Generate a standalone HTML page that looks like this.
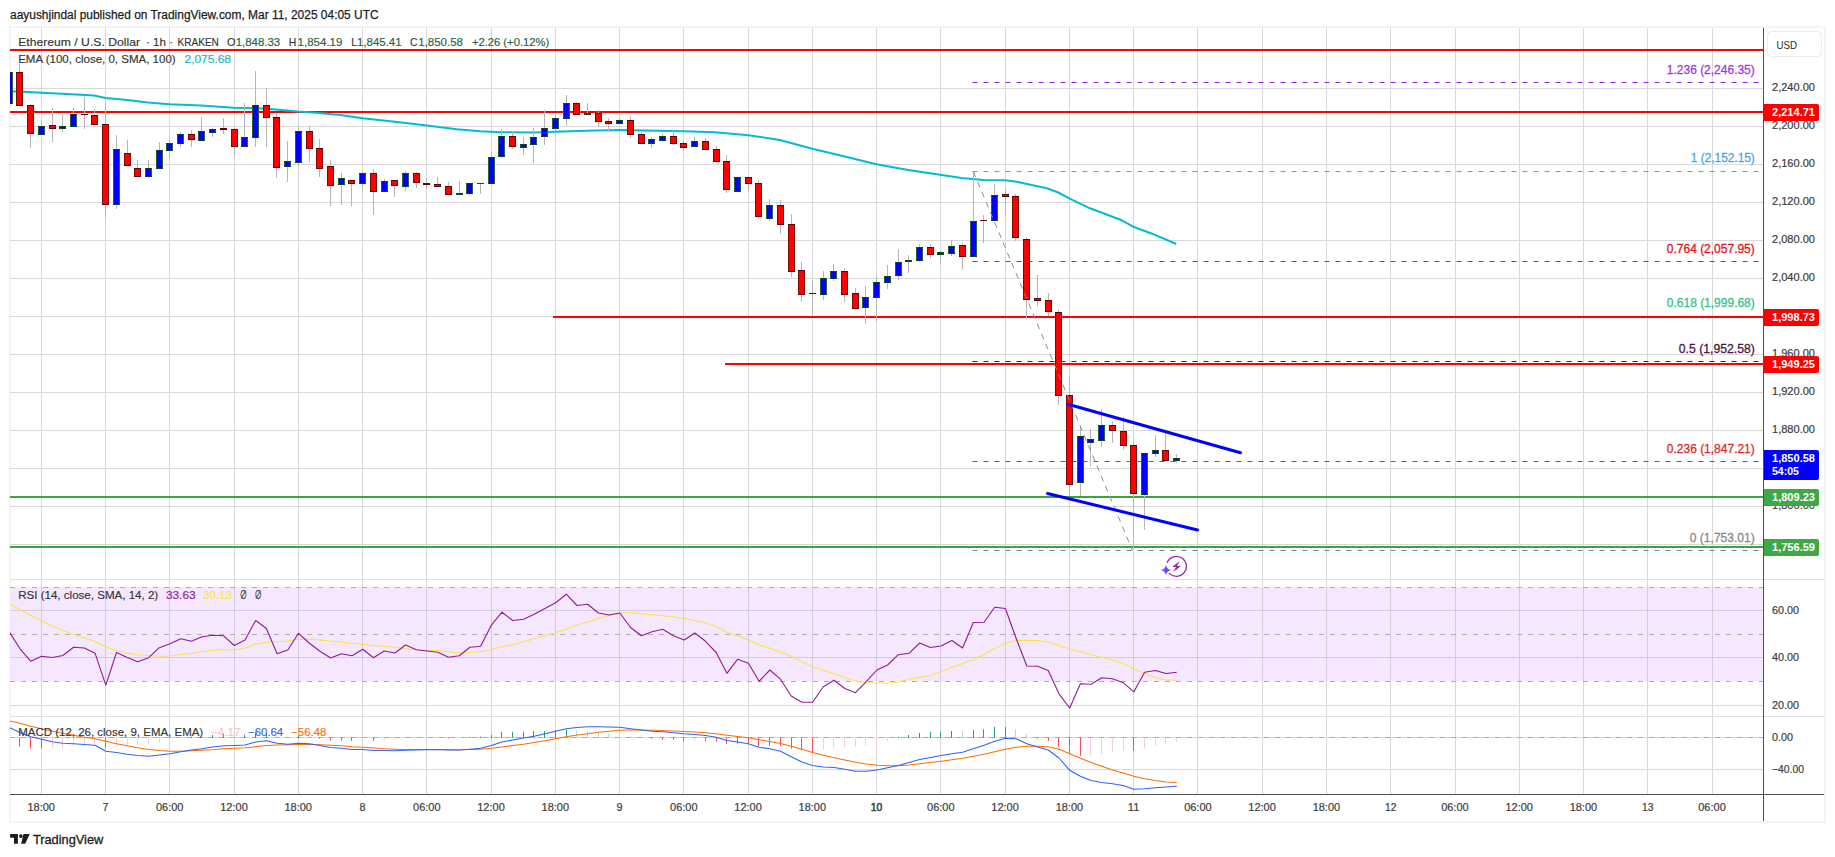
<!DOCTYPE html>
<html lang="en"><head><meta charset="utf-8"><title>ETHUSD chart</title>
<style>html,body{margin:0;padding:0;background:#fff;}body{width:1835px;height:857px;position:relative;overflow:hidden;}</style></head>
<body>
<svg width="1835" height="857" viewBox="0 0 1835 857" font-family='"Liberation Sans", "DejaVu Sans", sans-serif' style="position:absolute;left:0;top:0">
<rect x="0" y="0" width="1835" height="857" fill="#ffffff"/>
<rect x="10" y="27" width="1815" height="795" fill="#ffffff" stroke="#f4f4f4" stroke-width="2"/>
<defs><clipPath id="cm"><rect x="10" y="28" width="1753" height="551"/></clipPath><clipPath id="cr"><rect x="10" y="580" width="1753" height="136"/></clipPath><clipPath id="cd"><rect x="10" y="717" width="1753" height="77"/></clipPath></defs>
<rect x="10" y="587" width="1753" height="94.0" fill="#f5e8fe"/>
<path d="M41.5 28V794 M105.5 28V794 M169.5 28V794 M234.5 28V794 M298.5 28V794 M362.5 28V794 M426.5 28V794 M491.5 28V794 M555.5 28V794 M619.5 28V794 M683.5 28V794 M748.5 28V794 M812.5 28V794 M876.5 28V794 M940.5 28V794 M1005.5 28V794 M1069.5 28V794 M1133.5 28V794 M1197.5 28V794 M1262.5 28V794 M1326.5 28V794 M1390.5 28V794 M1455.5 28V794 M1519.5 28V794 M1583.5 28V794 M1647.5 28V794 M1712.5 28V794" stroke="#d9d9d9" stroke-width="1" fill="none"/>
<path d="M41.5 587.5V681.5 M105.5 587.5V681.5 M169.5 587.5V681.5 M234.5 587.5V681.5 M298.5 587.5V681.5 M362.5 587.5V681.5 M426.5 587.5V681.5 M491.5 587.5V681.5 M555.5 587.5V681.5 M619.5 587.5V681.5 M683.5 587.5V681.5 M748.5 587.5V681.5 M812.5 587.5V681.5 M876.5 587.5V681.5 M940.5 587.5V681.5 M1005.5 587.5V681.5 M1069.5 587.5V681.5 M1133.5 587.5V681.5 M1197.5 587.5V681.5 M1262.5 587.5V681.5 M1326.5 587.5V681.5 M1390.5 587.5V681.5 M1455.5 587.5V681.5 M1519.5 587.5V681.5 M1583.5 587.5V681.5 M1647.5 587.5V681.5 M1712.5 587.5V681.5" stroke="#d5c8e1" stroke-width="1" fill="none"/>
<path d="M10 88.5H1763 M10 126.5H1763 M10 164.5H1763 M10 202.5H1763 M10 240.5H1763 M10 278.5H1763 M10 316.5H1763 M10 354.5H1763 M10 392.5H1763 M10 430.5H1763 M10 468.5H1763 M10 506.5H1763 M10 544.5H1763" stroke="#d9d9d9" stroke-width="1" fill="none"/>
<path d="M10 705.5H1763" stroke="#d9d9d9" stroke-width="1" fill="none"/>
<path d="M10 610.5H1763 M10 657.5H1763" stroke="#d5c8e1" stroke-width="1" fill="none"/>
<path d="M10 737.5H1763 M10 769.5H1763" stroke="#d9d9d9" stroke-width="1" fill="none"/>
<path d="M10 579.5H1824 M10 716.5H1824" stroke="#dfe1ea" stroke-width="1" fill="none"/>
<path d="M10 587.5H1763 M10 634.5H1763 M10 681.5H1763" stroke="#adadad" stroke-width="1" stroke-dasharray="5 6" fill="none"/>
<path d="M10 737.5H1763" stroke="#adadad" stroke-width="1" stroke-dasharray="5 6" fill="none"/>
<text x="1772" y="91.0" font-size="11.3" fill="#3c3c3c" stroke="#3c3c3c" stroke-width="0.2" font-weight="normal" textLength="43" lengthAdjust="spacingAndGlyphs">2,240.00</text>
<text x="1772" y="129.0" font-size="11.3" fill="#3c3c3c" stroke="#3c3c3c" stroke-width="0.2" font-weight="normal" textLength="43" lengthAdjust="spacingAndGlyphs">2,200.00</text>
<text x="1772" y="167.0" font-size="11.3" fill="#3c3c3c" stroke="#3c3c3c" stroke-width="0.2" font-weight="normal" textLength="43" lengthAdjust="spacingAndGlyphs">2,160.00</text>
<text x="1772" y="205.0" font-size="11.3" fill="#3c3c3c" stroke="#3c3c3c" stroke-width="0.2" font-weight="normal" textLength="43" lengthAdjust="spacingAndGlyphs">2,120.00</text>
<text x="1772" y="243.0" font-size="11.3" fill="#3c3c3c" stroke="#3c3c3c" stroke-width="0.2" font-weight="normal" textLength="43" lengthAdjust="spacingAndGlyphs">2,080.00</text>
<text x="1772" y="281.0" font-size="11.3" fill="#3c3c3c" stroke="#3c3c3c" stroke-width="0.2" font-weight="normal" textLength="43" lengthAdjust="spacingAndGlyphs">2,040.00</text>
<text x="1772" y="357.0" font-size="11.3" fill="#3c3c3c" stroke="#3c3c3c" stroke-width="0.2" font-weight="normal" textLength="43" lengthAdjust="spacingAndGlyphs">1,960.00</text>
<text x="1772" y="395.0" font-size="11.3" fill="#3c3c3c" stroke="#3c3c3c" stroke-width="0.2" font-weight="normal" textLength="43" lengthAdjust="spacingAndGlyphs">1,920.00</text>
<text x="1772" y="433.0" font-size="11.3" fill="#3c3c3c" stroke="#3c3c3c" stroke-width="0.2" font-weight="normal" textLength="43" lengthAdjust="spacingAndGlyphs">1,880.00</text>
<text x="1772" y="509.0" font-size="11.3" fill="#3c3c3c" stroke="#3c3c3c" stroke-width="0.2" font-weight="normal" textLength="43" lengthAdjust="spacingAndGlyphs">1,800.00</text>
<text x="1772" y="613.9" font-size="11.3" fill="#3c3c3c" stroke="#3c3c3c" stroke-width="0.2" font-weight="normal" textLength="27" lengthAdjust="spacingAndGlyphs">60.00</text>
<text x="1772" y="660.9" font-size="11.3" fill="#3c3c3c" stroke="#3c3c3c" stroke-width="0.2" font-weight="normal" textLength="27" lengthAdjust="spacingAndGlyphs">40.00</text>
<text x="1772" y="708.9" font-size="11.3" fill="#3c3c3c" stroke="#3c3c3c" stroke-width="0.2" font-weight="normal" textLength="27" lengthAdjust="spacingAndGlyphs">20.00</text>
<text x="1772" y="740.9" font-size="11.3" fill="#3c3c3c" stroke="#3c3c3c" stroke-width="0.2" font-weight="normal" textLength="21" lengthAdjust="spacingAndGlyphs">0.00</text>
<text x="1772" y="772.9" font-size="11.3" fill="#3c3c3c" stroke="#3c3c3c" stroke-width="0.2" font-weight="normal" textLength="32" lengthAdjust="spacingAndGlyphs">−40.00</text>
<g clip-path="url(#cm)">
<path d="M972.5 82.5H1760" stroke="#9826d0" stroke-width="1" stroke-dasharray="5 6" fill="none"/>
<path d="M972.5 171.5H1760" stroke="#4aa7e0" stroke-width="1" stroke-dasharray="5 6" fill="none"/>
<path d="M972.5 261.5H1760" stroke="#f0141c" stroke-width="1" stroke-dasharray="5 6" fill="none"/>
<path d="M972.5 361.5H1760" stroke="#4a1540" stroke-width="1" stroke-dasharray="5 6" fill="none"/>
<path d="M972.5 461.5H1760" stroke="#dd2a2f" stroke-width="1" stroke-dasharray="5 6" fill="none"/>
<path d="M972.5 550.5H1760" stroke="#7f7f7f" stroke-width="1" stroke-dasharray="5 6" fill="none"/>
<path d="M972.5 316.5H1760" stroke="#35c28f" stroke-width="1" stroke-dasharray="5 6" fill="none"/>
<text x="1754.8" y="73.9" font-size="12" fill="#a23be0" stroke="#a23be0" stroke-width="0.3" text-anchor="end" textLength="88" lengthAdjust="spacingAndGlyphs">1.236 (2,246.35)</text>
<text x="1754.8" y="162.4" font-size="12" fill="#4aa7e0" stroke="#4aa7e0" stroke-width="0.3" text-anchor="end" textLength="64" lengthAdjust="spacingAndGlyphs">1 (2,152.15)</text>
<text x="1754.8" y="252.9" font-size="12" fill="#e0141c" stroke="#e0141c" stroke-width="0.3" text-anchor="end" textLength="88" lengthAdjust="spacingAndGlyphs">0.764 (2,057.95)</text>
<text x="1754.8" y="307.4" font-size="12" fill="#35c28f" stroke="#35c28f" stroke-width="0.3" text-anchor="end" textLength="88" lengthAdjust="spacingAndGlyphs">0.618 (1,999.68)</text>
<text x="1754.8" y="352.9" font-size="12" fill="#4a1540" stroke="#4a1540" stroke-width="0.3" text-anchor="end" textLength="76" lengthAdjust="spacingAndGlyphs">0.5 (1,952.58)</text>
<text x="1754.8" y="452.9" font-size="12" fill="#dd2a2f" stroke="#dd2a2f" stroke-width="0.3" text-anchor="end" textLength="88" lengthAdjust="spacingAndGlyphs">0.236 (1,847.21)</text>
<text x="1754.8" y="541.9" font-size="12" fill="#8a8a8a" stroke="#8a8a8a" stroke-width="0.3" text-anchor="end" textLength="65" lengthAdjust="spacingAndGlyphs">0 (1,753.01)</text>
<path d="M10 50H1763 M10 112H1763 M553 317H1763 M725 364H1763" stroke="#ff0000" stroke-width="2" fill="none"/>
<path d="M10 497H1763 M10 547H1763" stroke="#3aa63d" stroke-width="2" fill="none"/>
<polyline points="10,91.2 19.5,91.6 41.5,92.7 62,93.8 94,95.5 105.5,98 127,100 148,102.5 169.5,104.3 201,105.5 234,107.8 258,108.3 276,109.5 298,111.5 313,112.5 340,115 362.5,118.3 395,121.7 426.7,125.5 456.7,129.2 480,131.2 501.3,132.2 533.3,132.5 555.2,131.7 586.7,130.8 619.2,130 645,130.5 683.5,131.2 715,132.2 748.5,135.3 780,140 812.3,148.8 841.7,155.8 876.3,164.2 908.3,170 930,173.3 961.7,178 983.3,180 1005,180.3 1016.7,181.7 1046.7,188.3 1058.3,192.5 1069.7,198.7 1090,208.3 1121.7,220.3 1133.3,226.7 1153.3,234.2 1176.3,244" stroke="#00bcd4" stroke-width="2" fill="none" stroke-linejoin="round"/>
<path d="M9.5 72V104 M19.5 64V106 M30.5 104V148 M41.5 120V135 M52.5 108V142 M62.5 114V132 M73.5 108V127 M84.5 97V129 M94.5 109V125 M105.5 102V217 M116.5 135V209 M127.5 140V166 M137.5 160V177 M148.5 160V178 M159.5 142V169 M169.5 140V158 M180.5 132V147 M191.5 130V147 M201.5 117V141 M212.5 128V137 M223.5 118V134 M234.5 128V157 M244.5 103V147 M255.5 71V147 M266.5 88V147 M276.5 113V178 M287.5 141V182 M298.5 126V166 M309.5 126V162 M319.5 139V177 M330.5 160V206 M341.5 173V205 M351.5 180V206 M362.5 172V191 M373.5 169V215 M384.5 179V192 M394.5 180V197 M405.5 171V191 M416.5 172V188 M426.5 178V189 M437.5 177V187 M448.5 182V195 M459.5 181V195 M469.5 183V195 M480.5 183V194 M491.5 152V184 M501.5 129V158 M512.5 131V149 M523.5 137V155 M533.5 128V163 M544.5 110V145 M555.5 114V131 M566.5 95V126 M576.5 102V115 M587.5 103V115 M598.5 110V127 M608.5 118V132 M619.5 118V124 M630.5 116V138 M641.5 132V144 M651.5 137V148 M662.5 134V142 M673.5 130V145 M683.5 141V151 M694.5 137V147 M705.5 138V150 M716.5 146V163 M726.5 155V193 M737.5 177V192 M748.5 177V191 M758.5 180V218 M769.5 199V221 M780.5 200V234 M791.5 214V277 M801.5 262V302 M812.5 280V316 M823.5 271V300 M833.5 264V281 M844.5 268V302 M855.5 288V310 M865.5 286V324 M876.5 276V321 M887.5 265V289 M898.5 249V280 M908.5 255V273 M919.5 244V262 M930.5 244V258 M940.5 251V264 M951.5 240V256 M962.5 243V270 M973.5 171V257 M983.5 215V243 M994.5 184V221 M1005.5 188V215 M1015.5 194V241 M1026.5 237V319 M1037.5 275V306 M1048.5 293V316 M1058.5 310V405 M1069.5 376V496 M1080.5 427V496 M1090.5 429V466 M1101.5 409V447 M1112.5 421V443 M1123.5 417V450 M1133.5 441V549 M1144.5 453V530 M1155.5 435V457 M1165.5 433V461 M1176.5 454V463" stroke="#b6b6b6" stroke-width="1" fill="none"/>
<rect x="6.0" y="72" width="7" height="32" fill="#0d4423"/>
<rect x="6.0" y="73" width="7" height="30" fill="#2a6236"/>
<rect x="7.0" y="73" width="5" height="30" fill="#0000ff"/>
<rect x="16.0" y="72" width="7" height="34" fill="#5a0404"/>
<rect x="16.0" y="73" width="7" height="32" fill="#7a0c08"/>
<rect x="17.0" y="73" width="5" height="32" fill="#ff0000"/>
<rect x="27.0" y="105" width="7" height="29" fill="#5a0404"/>
<rect x="27.0" y="106" width="7" height="27" fill="#7a0c08"/>
<rect x="28.0" y="106" width="5" height="27" fill="#ff0000"/>
<rect x="38.0" y="126" width="7" height="9" fill="#0d4423"/>
<rect x="38.0" y="127" width="7" height="7" fill="#2a6236"/>
<rect x="39.0" y="127" width="5" height="7" fill="#0000ff"/>
<rect x="49.0" y="125" width="7" height="4" fill="#5a0404"/>
<rect x="49.0" y="126" width="7" height="2" fill="#7a0c08"/>
<rect x="50.0" y="126" width="5" height="2" fill="#ff0000"/>
<rect x="59.0" y="126" width="7" height="3" fill="#0d4423"/>
<rect x="59.0" y="127" width="7" height="1" fill="#2a6236"/>
<rect x="60.0" y="127" width="5" height="1" fill="#0000ff"/>
<rect x="70.0" y="114" width="7" height="13" fill="#0d4423"/>
<rect x="70.0" y="115" width="7" height="11" fill="#2a6236"/>
<rect x="71.0" y="115" width="5" height="11" fill="#0000ff"/>
<rect x="81.0" y="114" width="7" height="1" fill="#5a0404"/>
<rect x="91.0" y="115" width="7" height="10" fill="#5a0404"/>
<rect x="91.0" y="116" width="7" height="8" fill="#7a0c08"/>
<rect x="92.0" y="116" width="5" height="8" fill="#ff0000"/>
<rect x="102.0" y="124" width="7" height="81" fill="#5a0404"/>
<rect x="102.0" y="125" width="7" height="79" fill="#7a0c08"/>
<rect x="103.0" y="125" width="5" height="79" fill="#ff0000"/>
<rect x="113.0" y="149" width="7" height="56" fill="#0d4423"/>
<rect x="113.0" y="150" width="7" height="54" fill="#2a6236"/>
<rect x="114.0" y="150" width="5" height="54" fill="#0000ff"/>
<rect x="124.0" y="153" width="7" height="13" fill="#5a0404"/>
<rect x="124.0" y="154" width="7" height="11" fill="#7a0c08"/>
<rect x="125.0" y="154" width="5" height="11" fill="#ff0000"/>
<rect x="134.0" y="168" width="7" height="9" fill="#5a0404"/>
<rect x="134.0" y="169" width="7" height="7" fill="#7a0c08"/>
<rect x="135.0" y="169" width="5" height="7" fill="#ff0000"/>
<rect x="145.0" y="168" width="7" height="9" fill="#0d4423"/>
<rect x="145.0" y="169" width="7" height="7" fill="#2a6236"/>
<rect x="146.0" y="169" width="5" height="7" fill="#0000ff"/>
<rect x="156.0" y="150" width="7" height="19" fill="#0d4423"/>
<rect x="156.0" y="151" width="7" height="17" fill="#2a6236"/>
<rect x="157.0" y="151" width="5" height="17" fill="#0000ff"/>
<rect x="166.0" y="143" width="7" height="8" fill="#0d4423"/>
<rect x="166.0" y="144" width="7" height="6" fill="#2a6236"/>
<rect x="167.0" y="144" width="5" height="6" fill="#0000ff"/>
<rect x="177.0" y="134" width="7" height="10" fill="#0d4423"/>
<rect x="177.0" y="135" width="7" height="8" fill="#2a6236"/>
<rect x="178.0" y="135" width="5" height="8" fill="#0000ff"/>
<rect x="188.0" y="134" width="7" height="6" fill="#5a0404"/>
<rect x="188.0" y="135" width="7" height="4" fill="#7a0c08"/>
<rect x="189.0" y="135" width="5" height="4" fill="#ff0000"/>
<rect x="198.0" y="131" width="7" height="10" fill="#0d4423"/>
<rect x="198.0" y="132" width="7" height="8" fill="#2a6236"/>
<rect x="199.0" y="132" width="5" height="8" fill="#0000ff"/>
<rect x="209.0" y="129" width="7" height="4" fill="#0d4423"/>
<rect x="209.0" y="130" width="7" height="2" fill="#2a6236"/>
<rect x="210.0" y="130" width="5" height="2" fill="#0000ff"/>
<rect x="220.0" y="128" width="7" height="2" fill="#5a0404"/>
<rect x="231.0" y="129" width="7" height="18" fill="#5a0404"/>
<rect x="231.0" y="130" width="7" height="16" fill="#7a0c08"/>
<rect x="232.0" y="130" width="5" height="16" fill="#ff0000"/>
<rect x="241.0" y="137" width="7" height="10" fill="#0d4423"/>
<rect x="241.0" y="138" width="7" height="8" fill="#2a6236"/>
<rect x="242.0" y="138" width="5" height="8" fill="#0000ff"/>
<rect x="252.0" y="105" width="7" height="33" fill="#0d4423"/>
<rect x="252.0" y="106" width="7" height="31" fill="#2a6236"/>
<rect x="253.0" y="106" width="5" height="31" fill="#0000ff"/>
<rect x="263.0" y="105" width="7" height="13" fill="#5a0404"/>
<rect x="263.0" y="106" width="7" height="11" fill="#7a0c08"/>
<rect x="264.0" y="106" width="5" height="11" fill="#ff0000"/>
<rect x="273.0" y="117" width="7" height="51" fill="#5a0404"/>
<rect x="273.0" y="118" width="7" height="49" fill="#7a0c08"/>
<rect x="274.0" y="118" width="5" height="49" fill="#ff0000"/>
<rect x="284.0" y="161" width="7" height="6" fill="#0d4423"/>
<rect x="284.0" y="162" width="7" height="4" fill="#2a6236"/>
<rect x="285.0" y="162" width="5" height="4" fill="#0000ff"/>
<rect x="295.0" y="131" width="7" height="32" fill="#0d4423"/>
<rect x="295.0" y="132" width="7" height="30" fill="#2a6236"/>
<rect x="296.0" y="132" width="5" height="30" fill="#0000ff"/>
<rect x="306.0" y="131" width="7" height="18" fill="#5a0404"/>
<rect x="306.0" y="132" width="7" height="16" fill="#7a0c08"/>
<rect x="307.0" y="132" width="5" height="16" fill="#ff0000"/>
<rect x="316.0" y="148" width="7" height="21" fill="#5a0404"/>
<rect x="316.0" y="149" width="7" height="19" fill="#7a0c08"/>
<rect x="317.0" y="149" width="5" height="19" fill="#ff0000"/>
<rect x="327.0" y="166" width="7" height="20" fill="#5a0404"/>
<rect x="327.0" y="167" width="7" height="18" fill="#7a0c08"/>
<rect x="328.0" y="167" width="5" height="18" fill="#ff0000"/>
<rect x="338.0" y="178" width="7" height="7" fill="#0d4423"/>
<rect x="338.0" y="179" width="7" height="5" fill="#2a6236"/>
<rect x="339.0" y="179" width="5" height="5" fill="#0000ff"/>
<rect x="348.0" y="180" width="7" height="4" fill="#5a0404"/>
<rect x="348.0" y="181" width="7" height="2" fill="#7a0c08"/>
<rect x="349.0" y="181" width="5" height="2" fill="#ff0000"/>
<rect x="359.0" y="173" width="7" height="11" fill="#0d4423"/>
<rect x="359.0" y="174" width="7" height="9" fill="#2a6236"/>
<rect x="360.0" y="174" width="5" height="9" fill="#0000ff"/>
<rect x="370.0" y="173" width="7" height="19" fill="#5a0404"/>
<rect x="370.0" y="174" width="7" height="17" fill="#7a0c08"/>
<rect x="371.0" y="174" width="5" height="17" fill="#ff0000"/>
<rect x="381.0" y="181" width="7" height="11" fill="#0d4423"/>
<rect x="381.0" y="182" width="7" height="9" fill="#2a6236"/>
<rect x="382.0" y="182" width="5" height="9" fill="#0000ff"/>
<rect x="391.0" y="180" width="7" height="6" fill="#5a0404"/>
<rect x="391.0" y="181" width="7" height="4" fill="#7a0c08"/>
<rect x="392.0" y="181" width="5" height="4" fill="#ff0000"/>
<rect x="402.0" y="173" width="7" height="14" fill="#0d4423"/>
<rect x="402.0" y="174" width="7" height="12" fill="#2a6236"/>
<rect x="403.0" y="174" width="5" height="12" fill="#0000ff"/>
<rect x="413.0" y="173" width="7" height="10" fill="#5a0404"/>
<rect x="413.0" y="174" width="7" height="8" fill="#7a0c08"/>
<rect x="414.0" y="174" width="5" height="8" fill="#ff0000"/>
<rect x="423.0" y="183" width="7" height="2" fill="#5a0404"/>
<rect x="434.0" y="184" width="7" height="3" fill="#5a0404"/>
<rect x="434.0" y="185" width="7" height="1" fill="#7a0c08"/>
<rect x="435.0" y="185" width="5" height="1" fill="#ff0000"/>
<rect x="445.0" y="186" width="7" height="9" fill="#5a0404"/>
<rect x="445.0" y="187" width="7" height="7" fill="#7a0c08"/>
<rect x="446.0" y="187" width="5" height="7" fill="#ff0000"/>
<rect x="456.0" y="193" width="7" height="2" fill="#0f4a26"/>
<rect x="466.0" y="183" width="7" height="11" fill="#0d4423"/>
<rect x="466.0" y="184" width="7" height="9" fill="#2a6236"/>
<rect x="467.0" y="184" width="5" height="9" fill="#0000ff"/>
<rect x="477.0" y="183" width="7" height="1" fill="#0f4a26"/>
<rect x="488.0" y="157" width="7" height="27" fill="#0d4423"/>
<rect x="488.0" y="158" width="7" height="25" fill="#2a6236"/>
<rect x="489.0" y="158" width="5" height="25" fill="#0000ff"/>
<rect x="498.0" y="136" width="7" height="21" fill="#0d4423"/>
<rect x="498.0" y="137" width="7" height="19" fill="#2a6236"/>
<rect x="499.0" y="137" width="5" height="19" fill="#0000ff"/>
<rect x="509.0" y="136" width="7" height="11" fill="#5a0404"/>
<rect x="509.0" y="137" width="7" height="9" fill="#7a0c08"/>
<rect x="510.0" y="137" width="5" height="9" fill="#ff0000"/>
<rect x="520.0" y="144" width="7" height="4" fill="#0d4423"/>
<rect x="520.0" y="145" width="7" height="2" fill="#2a6236"/>
<rect x="521.0" y="145" width="5" height="2" fill="#0000ff"/>
<rect x="530.0" y="137" width="7" height="8" fill="#0d4423"/>
<rect x="530.0" y="138" width="7" height="6" fill="#2a6236"/>
<rect x="531.0" y="138" width="5" height="6" fill="#0000ff"/>
<rect x="541.0" y="128" width="7" height="9" fill="#0d4423"/>
<rect x="541.0" y="129" width="7" height="7" fill="#2a6236"/>
<rect x="542.0" y="129" width="5" height="7" fill="#0000ff"/>
<rect x="552.0" y="118" width="7" height="11" fill="#0d4423"/>
<rect x="552.0" y="119" width="7" height="9" fill="#2a6236"/>
<rect x="553.0" y="119" width="5" height="9" fill="#0000ff"/>
<rect x="563.0" y="103" width="7" height="16" fill="#0d4423"/>
<rect x="563.0" y="104" width="7" height="14" fill="#2a6236"/>
<rect x="564.0" y="104" width="5" height="14" fill="#0000ff"/>
<rect x="573.0" y="103" width="7" height="12" fill="#5a0404"/>
<rect x="573.0" y="104" width="7" height="10" fill="#7a0c08"/>
<rect x="574.0" y="104" width="5" height="10" fill="#ff0000"/>
<rect x="584.0" y="113" width="7" height="2" fill="#0f4a26"/>
<rect x="595.0" y="113" width="7" height="9" fill="#5a0404"/>
<rect x="595.0" y="114" width="7" height="7" fill="#7a0c08"/>
<rect x="596.0" y="114" width="5" height="7" fill="#ff0000"/>
<rect x="605.0" y="121" width="7" height="3" fill="#5a0404"/>
<rect x="605.0" y="122" width="7" height="1" fill="#7a0c08"/>
<rect x="606.0" y="122" width="5" height="1" fill="#ff0000"/>
<rect x="616.0" y="120" width="7" height="4" fill="#0d4423"/>
<rect x="616.0" y="121" width="7" height="2" fill="#2a6236"/>
<rect x="617.0" y="121" width="5" height="2" fill="#0000ff"/>
<rect x="627.0" y="120" width="7" height="15" fill="#5a0404"/>
<rect x="627.0" y="121" width="7" height="13" fill="#7a0c08"/>
<rect x="628.0" y="121" width="5" height="13" fill="#ff0000"/>
<rect x="638.0" y="134" width="7" height="10" fill="#5a0404"/>
<rect x="638.0" y="135" width="7" height="8" fill="#7a0c08"/>
<rect x="639.0" y="135" width="5" height="8" fill="#ff0000"/>
<rect x="648.0" y="139" width="7" height="5" fill="#0d4423"/>
<rect x="648.0" y="140" width="7" height="3" fill="#2a6236"/>
<rect x="649.0" y="140" width="5" height="3" fill="#0000ff"/>
<rect x="659.0" y="136" width="7" height="5" fill="#0d4423"/>
<rect x="659.0" y="137" width="7" height="3" fill="#2a6236"/>
<rect x="660.0" y="137" width="5" height="3" fill="#0000ff"/>
<rect x="670.0" y="136" width="7" height="8" fill="#5a0404"/>
<rect x="670.0" y="137" width="7" height="6" fill="#7a0c08"/>
<rect x="671.0" y="137" width="5" height="6" fill="#ff0000"/>
<rect x="680.0" y="143" width="7" height="5" fill="#5a0404"/>
<rect x="680.0" y="144" width="7" height="3" fill="#7a0c08"/>
<rect x="681.0" y="144" width="5" height="3" fill="#ff0000"/>
<rect x="691.0" y="141" width="7" height="6" fill="#0d4423"/>
<rect x="691.0" y="142" width="7" height="4" fill="#2a6236"/>
<rect x="692.0" y="142" width="5" height="4" fill="#0000ff"/>
<rect x="702.0" y="141" width="7" height="9" fill="#5a0404"/>
<rect x="702.0" y="142" width="7" height="7" fill="#7a0c08"/>
<rect x="703.0" y="142" width="5" height="7" fill="#ff0000"/>
<rect x="713.0" y="149" width="7" height="13" fill="#5a0404"/>
<rect x="713.0" y="150" width="7" height="11" fill="#7a0c08"/>
<rect x="714.0" y="150" width="5" height="11" fill="#ff0000"/>
<rect x="723.0" y="161" width="7" height="29" fill="#5a0404"/>
<rect x="723.0" y="162" width="7" height="27" fill="#7a0c08"/>
<rect x="724.0" y="162" width="5" height="27" fill="#ff0000"/>
<rect x="734.0" y="177" width="7" height="15" fill="#0d4423"/>
<rect x="734.0" y="178" width="7" height="13" fill="#2a6236"/>
<rect x="735.0" y="178" width="5" height="13" fill="#0000ff"/>
<rect x="745.0" y="177" width="7" height="7" fill="#5a0404"/>
<rect x="745.0" y="178" width="7" height="5" fill="#7a0c08"/>
<rect x="746.0" y="178" width="5" height="5" fill="#ff0000"/>
<rect x="755.0" y="183" width="7" height="34" fill="#5a0404"/>
<rect x="755.0" y="184" width="7" height="32" fill="#7a0c08"/>
<rect x="756.0" y="184" width="5" height="32" fill="#ff0000"/>
<rect x="766.0" y="205" width="7" height="14" fill="#0d4423"/>
<rect x="766.0" y="206" width="7" height="12" fill="#2a6236"/>
<rect x="767.0" y="206" width="5" height="12" fill="#0000ff"/>
<rect x="777.0" y="205" width="7" height="20" fill="#5a0404"/>
<rect x="777.0" y="206" width="7" height="18" fill="#7a0c08"/>
<rect x="778.0" y="206" width="5" height="18" fill="#ff0000"/>
<rect x="788.0" y="224" width="7" height="48" fill="#5a0404"/>
<rect x="788.0" y="225" width="7" height="46" fill="#7a0c08"/>
<rect x="789.0" y="225" width="5" height="46" fill="#ff0000"/>
<rect x="798.0" y="270" width="7" height="25" fill="#5a0404"/>
<rect x="798.0" y="271" width="7" height="23" fill="#7a0c08"/>
<rect x="799.0" y="271" width="5" height="23" fill="#ff0000"/>
<rect x="809.0" y="293" width="7" height="1" fill="#5a0404"/>
<rect x="820.0" y="278" width="7" height="17" fill="#0d4423"/>
<rect x="820.0" y="279" width="7" height="15" fill="#2a6236"/>
<rect x="821.0" y="279" width="5" height="15" fill="#0000ff"/>
<rect x="830.0" y="271" width="7" height="8" fill="#0d4423"/>
<rect x="830.0" y="272" width="7" height="6" fill="#2a6236"/>
<rect x="831.0" y="272" width="5" height="6" fill="#0000ff"/>
<rect x="841.0" y="271" width="7" height="24" fill="#5a0404"/>
<rect x="841.0" y="272" width="7" height="22" fill="#7a0c08"/>
<rect x="842.0" y="272" width="5" height="22" fill="#ff0000"/>
<rect x="852.0" y="293" width="7" height="16" fill="#5a0404"/>
<rect x="852.0" y="294" width="7" height="14" fill="#7a0c08"/>
<rect x="853.0" y="294" width="5" height="14" fill="#ff0000"/>
<rect x="862.0" y="297" width="7" height="11" fill="#0d4423"/>
<rect x="862.0" y="298" width="7" height="9" fill="#2a6236"/>
<rect x="863.0" y="298" width="5" height="9" fill="#0000ff"/>
<rect x="873.0" y="282" width="7" height="16" fill="#0d4423"/>
<rect x="873.0" y="283" width="7" height="14" fill="#2a6236"/>
<rect x="874.0" y="283" width="5" height="14" fill="#0000ff"/>
<rect x="884.0" y="276" width="7" height="7" fill="#0d4423"/>
<rect x="884.0" y="277" width="7" height="5" fill="#2a6236"/>
<rect x="885.0" y="277" width="5" height="5" fill="#0000ff"/>
<rect x="895.0" y="262" width="7" height="14" fill="#0d4423"/>
<rect x="895.0" y="263" width="7" height="12" fill="#2a6236"/>
<rect x="896.0" y="263" width="5" height="12" fill="#0000ff"/>
<rect x="905.0" y="260" width="7" height="2" fill="#0f4a26"/>
<rect x="916.0" y="247" width="7" height="14" fill="#0d4423"/>
<rect x="916.0" y="248" width="7" height="12" fill="#2a6236"/>
<rect x="917.0" y="248" width="5" height="12" fill="#0000ff"/>
<rect x="927.0" y="247" width="7" height="8" fill="#5a0404"/>
<rect x="927.0" y="248" width="7" height="6" fill="#7a0c08"/>
<rect x="928.0" y="248" width="5" height="6" fill="#ff0000"/>
<rect x="937.0" y="252" width="7" height="3" fill="#0d4423"/>
<rect x="937.0" y="253" width="7" height="1" fill="#2a6236"/>
<rect x="938.0" y="253" width="5" height="1" fill="#0000ff"/>
<rect x="948.0" y="246" width="7" height="8" fill="#0d4423"/>
<rect x="948.0" y="247" width="7" height="6" fill="#2a6236"/>
<rect x="949.0" y="247" width="5" height="6" fill="#0000ff"/>
<rect x="959.0" y="245" width="7" height="12" fill="#5a0404"/>
<rect x="959.0" y="246" width="7" height="10" fill="#7a0c08"/>
<rect x="960.0" y="246" width="5" height="10" fill="#ff0000"/>
<rect x="970.0" y="221" width="7" height="36" fill="#0d4423"/>
<rect x="970.0" y="222" width="7" height="34" fill="#2a6236"/>
<rect x="971.0" y="222" width="5" height="34" fill="#0000ff"/>
<rect x="980.0" y="220" width="7" height="1" fill="#5a0404"/>
<rect x="991.0" y="195" width="7" height="26" fill="#0d4423"/>
<rect x="991.0" y="196" width="7" height="24" fill="#2a6236"/>
<rect x="992.0" y="196" width="5" height="24" fill="#0000ff"/>
<rect x="1002.0" y="194" width="7" height="3" fill="#5a0404"/>
<rect x="1002.0" y="195" width="7" height="1" fill="#7a0c08"/>
<rect x="1003.0" y="195" width="5" height="1" fill="#ff0000"/>
<rect x="1012.0" y="196" width="7" height="42" fill="#5a0404"/>
<rect x="1012.0" y="197" width="7" height="40" fill="#7a0c08"/>
<rect x="1013.0" y="197" width="5" height="40" fill="#ff0000"/>
<rect x="1023.0" y="239" width="7" height="61" fill="#5a0404"/>
<rect x="1023.0" y="240" width="7" height="59" fill="#7a0c08"/>
<rect x="1024.0" y="240" width="5" height="59" fill="#ff0000"/>
<rect x="1034.0" y="298" width="7" height="3" fill="#5a0404"/>
<rect x="1034.0" y="299" width="7" height="1" fill="#7a0c08"/>
<rect x="1035.0" y="299" width="5" height="1" fill="#ff0000"/>
<rect x="1045.0" y="300" width="7" height="12" fill="#5a0404"/>
<rect x="1045.0" y="301" width="7" height="10" fill="#7a0c08"/>
<rect x="1046.0" y="301" width="5" height="10" fill="#ff0000"/>
<rect x="1055.0" y="312" width="7" height="84" fill="#5a0404"/>
<rect x="1055.0" y="313" width="7" height="82" fill="#7a0c08"/>
<rect x="1056.0" y="313" width="5" height="82" fill="#ff0000"/>
<rect x="1066.0" y="395" width="7" height="90" fill="#5a0404"/>
<rect x="1066.0" y="396" width="7" height="88" fill="#7a0c08"/>
<rect x="1067.0" y="396" width="5" height="88" fill="#ff0000"/>
<rect x="1077.0" y="436" width="7" height="47" fill="#0d4423"/>
<rect x="1077.0" y="437" width="7" height="45" fill="#2a6236"/>
<rect x="1078.0" y="437" width="5" height="45" fill="#0000ff"/>
<rect x="1087.0" y="439" width="7" height="4" fill="#0d4423"/>
<rect x="1087.0" y="440" width="7" height="2" fill="#2a6236"/>
<rect x="1088.0" y="440" width="5" height="2" fill="#0000ff"/>
<rect x="1098.0" y="425" width="7" height="16" fill="#0d4423"/>
<rect x="1098.0" y="426" width="7" height="14" fill="#2a6236"/>
<rect x="1099.0" y="426" width="5" height="14" fill="#0000ff"/>
<rect x="1109.0" y="425" width="7" height="6" fill="#5a0404"/>
<rect x="1109.0" y="426" width="7" height="4" fill="#7a0c08"/>
<rect x="1110.0" y="426" width="5" height="4" fill="#ff0000"/>
<rect x="1120.0" y="431" width="7" height="15" fill="#5a0404"/>
<rect x="1120.0" y="432" width="7" height="13" fill="#7a0c08"/>
<rect x="1121.0" y="432" width="5" height="13" fill="#ff0000"/>
<rect x="1130.0" y="445" width="7" height="49" fill="#5a0404"/>
<rect x="1130.0" y="446" width="7" height="47" fill="#7a0c08"/>
<rect x="1131.0" y="446" width="5" height="47" fill="#ff0000"/>
<rect x="1141.0" y="453" width="7" height="42" fill="#0d4423"/>
<rect x="1141.0" y="454" width="7" height="40" fill="#2a6236"/>
<rect x="1142.0" y="454" width="5" height="40" fill="#0000ff"/>
<rect x="1152.0" y="450" width="7" height="4" fill="#0d4423"/>
<rect x="1152.0" y="451" width="7" height="2" fill="#2a6236"/>
<rect x="1153.0" y="451" width="5" height="2" fill="#0000ff"/>
<rect x="1162.0" y="450" width="7" height="11" fill="#5a0404"/>
<rect x="1162.0" y="451" width="7" height="9" fill="#7a0c08"/>
<rect x="1163.0" y="451" width="5" height="9" fill="#ff0000"/>
<rect x="1173.0" y="458" width="7" height="3" fill="#0d4423"/>
<rect x="1173.0" y="459" width="7" height="1" fill="#2a6236"/>
<rect x="1174.0" y="459" width="5" height="1" fill="#0000ff"/>
<path d="M973.3 171.5L1132.5 550.5" stroke="#8c8c8c" stroke-width="1" stroke-dasharray="6 5" fill="none"/>
<path d="M1068 404.3L1240.5 452.8 M1047.5 493.5L1197.5 530" stroke="#0000ff" stroke-width="3" stroke-linecap="round" fill="none"/>
<g fill="none" stroke="#9c27b0" stroke-width="1.3" stroke-linecap="round" stroke-linejoin="round"><path d="M1167.2 562.3A10 10 0 1 1 1169.3 573.4"/></g>
<path d="M1179.7 561L1172.2 567H1176L1173.2 572.2L1180.9 566H1177Z" fill="#9c27b0"/>
<path d="M1166 564.9Q1166.9 569.2 1171.2 570.1Q1166.9 571 1166 575.3Q1165.1 571 1160.8 570.1Q1165.1 569.2 1166 564.9Z" fill="#734bfa"/>
</g>
<text x="18.2" y="45.7" font-size="11.6" fill="#333333" stroke="#333333" stroke-width="0.15" textLength="121.8" lengthAdjust="spacingAndGlyphs" >Ethereum / U.S. Dollar</text>
<text x="146" y="45.7" font-size="11.6" fill="#333333" stroke="#333333" stroke-width="0.15" textLength="27" lengthAdjust="spacingAndGlyphs" >· 1h ·</text>
<text x="177.5" y="45.7" font-size="11.6" fill="#333333" stroke="#333333" stroke-width="0.15" textLength="41.4" lengthAdjust="spacingAndGlyphs" >KRAKEN</text>
<text x="227" y="45.7" font-size="11.6" fill="#333333" stroke="#333333" stroke-width="0.15" textLength="8.5" lengthAdjust="spacingAndGlyphs" >O</text>
<text x="235.7" y="45.7" font-size="11.6" fill="#27613f" stroke="#27613f" stroke-width="0.15" textLength="44.5" lengthAdjust="spacingAndGlyphs" >1,848.33</text>
<text x="288.8" y="45.7" font-size="11.6" fill="#333333" stroke="#333333" stroke-width="0.15" textLength="7.5" lengthAdjust="spacingAndGlyphs" >H</text>
<text x="297.6" y="45.7" font-size="11.6" fill="#27613f" stroke="#27613f" stroke-width="0.15" textLength="44.8" lengthAdjust="spacingAndGlyphs" >1,854.19</text>
<text x="351.2" y="45.7" font-size="11.6" fill="#333333" stroke="#333333" stroke-width="0.15" textLength="5.8" lengthAdjust="spacingAndGlyphs" >L</text>
<text x="357" y="45.7" font-size="11.6" fill="#27613f" stroke="#27613f" stroke-width="0.15" textLength="44.6" lengthAdjust="spacingAndGlyphs" >1,845.41</text>
<text x="410.1" y="45.7" font-size="11.6" fill="#333333" stroke="#333333" stroke-width="0.15" textLength="7.5" lengthAdjust="spacingAndGlyphs" >C</text>
<text x="418.3" y="45.7" font-size="11.6" fill="#27613f" stroke="#27613f" stroke-width="0.15" textLength="44.6" lengthAdjust="spacingAndGlyphs" >1,850.58</text>
<text x="471.9" y="45.7" font-size="11.6" fill="#27613f" stroke="#27613f" stroke-width="0.15" textLength="77.3" lengthAdjust="spacingAndGlyphs" >+2.26 (+0.12%)</text>
<text x="18.2" y="62.8" font-size="11.6" fill="#333333" stroke="#333333" stroke-width="0.15" textLength="157.5" lengthAdjust="spacingAndGlyphs" >EMA (100, close, 0, SMA, 100)</text>
<text x="184.5" y="62.8" font-size="11.6" fill="#14b5d3" stroke="#14b5d3" stroke-width="0.15" textLength="46.5" lengthAdjust="spacingAndGlyphs" >2,075.68</text>
<g clip-path="url(#cr)">
<polyline points="9.3,603.8 24.7,612.2 41.3,620.5 58,628.8 74.7,634.7 94.7,641.3 105.2,646.3 116.3,650.5 126.7,653 137.2,654.7 148.3,655.5 158.8,656.3 169.3,656 180.2,654.7 191.3,653.5 201.3,651.8 211.7,650.5 223,649.7 233.8,649.7 244.2,648.5 255,644.2 266,642.2 276,641.7 286.8,641 298,639.2 313,639.3 316.7,639.7 333.3,641.3 352,643.3 373.5,645.5 394.8,647.2 416.3,650 437.7,650.5 448.3,651.8 459.2,653 469.8,652.5 480.5,651.8 491.2,649.7 501.8,646.7 512.7,644.7 534,638.8 555.5,632.7 576.8,625.2 598.3,618.5 609,615.5 619.7,613.5 630.5,612.5 651.8,614.7 673.3,616.7 684,618.5 705.3,622.7 716.2,626.8 726.8,632.2 748.2,640 759,644.7 780.3,651.8 791,656.3 812.5,666.7 833.8,673.5 855.3,681 866,682.7 887.4,683.3 898.2,682.2 908.8,679.3 930.3,675.5 941,671.7 951.7,667.5 962.3,663.8 973.2,659.7 983.8,654.7 994.5,648.8 1005.2,643.3 1015.8,640.5 1026.7,640.2 1037.3,640.5 1048,641.8 1058.8,645.2 1069.5,649.3 1080.2,651.8 1090.8,654.7 1101.7,657.2 1112.3,659.7 1123,663.5 1133.7,668.8 1144.5,673.5 1155.2,677.5 1165.8,680 1176.5,680.2" stroke="#fbe24a" stroke-width="1.15" fill="none" stroke-linejoin="round"/>
<polyline points="9.4,632.2 20.1,648.8 30.8,661.3 41.5,656.3 52.2,657.5 62.9,655.5 73.6,647.2 84.3,648 95.1,653.3 105.8,685.2 116.5,652.5 127.2,657.5 137.9,661.8 148.6,657.7 159.3,647.7 170.0,643.8 180.7,638.8 191.4,641.3 202.2,636.7 212.9,635.2 223.6,635.8 234.3,645.5 245.0,640 255.7,620.5 266.4,628.5 277.1,653.8 287.8,650 298.5,633.3 309.2,643 320.0,651.3 330.7,658 341.4,653.8 352.1,655.8 362.8,649.3 373.5,657.7 384.2,651 394.9,653 405.6,645 416.4,649.7 427.1,651 437.8,652.2 448.5,657.2 459.2,655.8 469.9,647.2 480.6,646.3 491.3,625.2 502.0,612.2 512.7,620.5 523.5,619.2 534.2,614.3 544.9,608.5 555.6,602.7 566.3,594.2 577.0,605.5 587.7,604.3 598.4,613 609.1,615 619.8,613 630.6,627.5 641.3,635.8 652.0,631.8 662.7,629.2 673.4,635.8 684.1,640 694.8,633 705.5,641.3 716.2,652.5 726.9,673.3 737.7,659.2 748.4,663.3 759.1,681.3 769.8,670 780.5,679.2 791.2,696 801.9,702.2 812.6,702.2 823.3,686.8 834.0,680.2 844.8,688.5 855.5,692.7 866.2,681.7 876.9,670 887.6,665 898.3,654.7 909.0,653.3 919.7,643 930.4,647.5 941.1,646 951.9,640.5 962.6,648 973.3,622.5 984.0,622.2 994.7,607.2 1005.4,608.5 1016.1,638.2 1026.8,666 1037.5,666.3 1048.2,670.5 1059.0,693.8 1069.7,708 1080.4,683.8 1091.1,684.3 1101.8,677.7 1112.5,678.8 1123.2,682.7 1133.9,691.8 1144.6,672.2 1155.3,670.5 1166.1,673.5 1176.8,672.2" stroke="#8e1b96" stroke-width="1.1" fill="none" stroke-linejoin="round"/>
</g>
<text x="18.2" y="599.3" font-size="11.6" fill="#333333" stroke="#333333" stroke-width="0.15" textLength="140" lengthAdjust="spacingAndGlyphs" >RSI (14, close, SMA, 14, 2)</text>
<text x="166" y="599.3" font-size="11.6" fill="#8e1b96" stroke="#8e1b96" stroke-width="0.15" textLength="29.5" lengthAdjust="spacingAndGlyphs" >33.63</text>
<text x="203" y="599.3" font-size="11.6" fill="#fbe24a" stroke="#fbe24a" stroke-width="0.15" textLength="29" lengthAdjust="spacingAndGlyphs" >30.13</text>
<text x="239.8" y="599.3" font-size="11.8" fill="#333333" stroke="#333333" stroke-width="0.25" font-family="'Noto Sans CJK SC', 'DejaVu Sans', sans-serif" textLength="7.4" lengthAdjust="spacingAndGlyphs">∅</text>
<text x="254.5" y="599.3" font-size="11.8" fill="#333333" stroke="#333333" stroke-width="0.25" font-family="'Noto Sans CJK SC', 'DejaVu Sans', sans-serif" textLength="7.4" lengthAdjust="spacingAndGlyphs">∅</text>
<g clip-path="url(#cd)">
<path d="M19.5 737.5V746.7" stroke="#ff4a52" stroke-width="1"/>
<path d="M30.5 737.5V748.5" stroke="#ff4a52" stroke-width="1"/>
<path d="M41.5 737.5V748.5" stroke="#ff4a52" stroke-width="1"/>
<path d="M52.5 737.5V748.1" stroke="#ffc9cf" stroke-width="1"/>
<path d="M62.5 737.5V748.1" stroke="#ffc9cf" stroke-width="1"/>
<path d="M73.5 737.5V746.5" stroke="#ffc9cf" stroke-width="1"/>
<path d="M84.5 737.5V745.0" stroke="#ffc9cf" stroke-width="1"/>
<path d="M94.5 737.5V744.0" stroke="#ffc9cf" stroke-width="1"/>
<path d="M105.5 737.5V747.5" stroke="#ff4a52" stroke-width="1"/>
<path d="M116.5 737.5V746.2" stroke="#ffc9cf" stroke-width="1"/>
<path d="M127.5 737.5V745.7" stroke="#ffc9cf" stroke-width="1"/>
<path d="M137.5 737.5V745.0" stroke="#ffc9cf" stroke-width="1"/>
<path d="M148.5 737.5V744.5" stroke="#ffc9cf" stroke-width="1"/>
<path d="M159.5 737.5V742.2" stroke="#ffc9cf" stroke-width="1"/>
<path d="M169.5 737.5V740.2" stroke="#ffc9cf" stroke-width="1"/>
<path d="M180.5 737.5V738.3" stroke="#ffc9cf" stroke-width="1"/>
<path d="M191.5 736.7V738.0" stroke="#22a08f" stroke-width="1"/>
<path d="M201.5 736.9V738.0" stroke="#22a08f" stroke-width="1"/>
<path d="M212.5 735.0V738.0" stroke="#22a08f" stroke-width="1"/>
<path d="M223.5 734.0V738.0" stroke="#22a08f" stroke-width="1"/>
<path d="M234.5 735.0V738.0" stroke="#abdcd6" stroke-width="1"/>
<path d="M244.5 734.8V738.0" stroke="#22a08f" stroke-width="1"/>
<path d="M255.5 733.0V738.0" stroke="#22a08f" stroke-width="1"/>
<path d="M266.5 732.8V738.0" stroke="#22a08f" stroke-width="1"/>
<path d="M276.5 735.5V738.0" stroke="#abdcd6" stroke-width="1"/>
<path d="M287.5 736.5V738.0" stroke="#abdcd6" stroke-width="1"/>
<path d="M298.5 735.7V738.0" stroke="#22a08f" stroke-width="1"/>
<path d="M309.5 736.3V738.0" stroke="#abdcd6" stroke-width="1"/>
<path d="M319.5 737.5V738.7" stroke="#ff4a52" stroke-width="1"/>
<path d="M330.5 737.5V740.5" stroke="#ff4a52" stroke-width="1"/>
<path d="M341.5 737.5V740.7" stroke="#ff4a52" stroke-width="1"/>
<path d="M351.5 737.5V740.8" stroke="#ff4a52" stroke-width="1"/>
<path d="M362.5 737.5V740.3" stroke="#ffc9cf" stroke-width="1"/>
<path d="M373.5 737.5V740.8" stroke="#ff4a52" stroke-width="1"/>
<path d="M384.5 737.5V740.2" stroke="#ffc9cf" stroke-width="1"/>
<path d="M394.5 737.5V739.5" stroke="#ffc9cf" stroke-width="1"/>
<path d="M405.5 737.5V738.7" stroke="#ffc9cf" stroke-width="1"/>
<path d="M416.5 737.5V738.5" stroke="#ffc9cf" stroke-width="1"/>
<path d="M426.5 737.5V738.1" stroke="#ffc9cf" stroke-width="1"/>
<path d="M437.5 737.5V738.0" stroke="#ffc9cf" stroke-width="1"/>
<path d="M448.5 737.5V738.5" stroke="#ff4a52" stroke-width="1"/>
<path d="M459.5 737.5V738.3" stroke="#ffc9cf" stroke-width="1"/>
<path d="M469.5 737.0V738.0" stroke="#22a08f" stroke-width="1"/>
<path d="M480.5 736.7V738.0" stroke="#22a08f" stroke-width="1"/>
<path d="M491.5 735.0V738.0" stroke="#22a08f" stroke-width="1"/>
<path d="M501.5 732.0V738.0" stroke="#22a08f" stroke-width="1"/>
<path d="M512.5 731.8V738.0" stroke="#22a08f" stroke-width="1"/>
<path d="M523.5 731.7V738.0" stroke="#22a08f" stroke-width="1"/>
<path d="M533.5 731.2V738.0" stroke="#22a08f" stroke-width="1"/>
<path d="M544.5 731.0V738.0" stroke="#22a08f" stroke-width="1"/>
<path d="M555.5 730.3V738.0" stroke="#22a08f" stroke-width="1"/>
<path d="M566.5 729.7V738.0" stroke="#22a08f" stroke-width="1"/>
<path d="M576.5 730.2V738.0" stroke="#abdcd6" stroke-width="1"/>
<path d="M587.5 731.0V738.0" stroke="#abdcd6" stroke-width="1"/>
<path d="M598.5 732.3V738.0" stroke="#abdcd6" stroke-width="1"/>
<path d="M608.5 733.3V738.0" stroke="#abdcd6" stroke-width="1"/>
<path d="M619.5 734.5V738.0" stroke="#abdcd6" stroke-width="1"/>
<path d="M630.5 736.3V738.0" stroke="#abdcd6" stroke-width="1"/>
<path d="M641.5 737.5V737.8" stroke="#ff4a52" stroke-width="1"/>
<path d="M651.5 737.5V738.7" stroke="#ff4a52" stroke-width="1"/>
<path d="M662.5 737.5V739.7" stroke="#ff4a52" stroke-width="1"/>
<path d="M673.5 737.5V739.7" stroke="#ff4a52" stroke-width="1"/>
<path d="M683.5 737.5V740.8" stroke="#ff4a52" stroke-width="1"/>
<path d="M694.5 737.5V740.8" stroke="#ffc9cf" stroke-width="1"/>
<path d="M705.5 737.5V740.8" stroke="#ff4a52" stroke-width="1"/>
<path d="M716.5 737.5V741.7" stroke="#ff4a52" stroke-width="1"/>
<path d="M726.5 737.5V743.8" stroke="#ff4a52" stroke-width="1"/>
<path d="M737.5 737.5V743.8" stroke="#ff4a52" stroke-width="1"/>
<path d="M748.5 737.5V743.3" stroke="#ff4a52" stroke-width="1"/>
<path d="M758.5 737.5V746.3" stroke="#ff4a52" stroke-width="1"/>
<path d="M769.5 737.5V745.8" stroke="#ff4a52" stroke-width="1"/>
<path d="M780.5 737.5V745.5" stroke="#ff4a52" stroke-width="1"/>
<path d="M791.5 737.5V748.7" stroke="#ff4a52" stroke-width="1"/>
<path d="M801.5 737.5V750.5" stroke="#ff4a52" stroke-width="1"/>
<path d="M812.5 737.5V752.5" stroke="#ff4a52" stroke-width="1"/>
<path d="M823.5 737.5V749.7" stroke="#ffc9cf" stroke-width="1"/>
<path d="M833.5 737.5V747.8" stroke="#ffc9cf" stroke-width="1"/>
<path d="M844.5 737.5V747.8" stroke="#ffc9cf" stroke-width="1"/>
<path d="M855.5 737.5V746.7" stroke="#ffc9cf" stroke-width="1"/>
<path d="M865.5 737.5V745.5" stroke="#ffc9cf" stroke-width="1"/>
<path d="M876.5 737.5V742.8" stroke="#ffc9cf" stroke-width="1"/>
<path d="M887.5 737.5V740.8" stroke="#ffc9cf" stroke-width="1"/>
<path d="M898.5 736.7V738.0" stroke="#22a08f" stroke-width="1"/>
<path d="M908.5 735.0V738.0" stroke="#22a08f" stroke-width="1"/>
<path d="M919.5 733.0V738.0" stroke="#22a08f" stroke-width="1"/>
<path d="M930.5 732.0V738.0" stroke="#22a08f" stroke-width="1"/>
<path d="M940.5 732.0V738.0" stroke="#22a08f" stroke-width="1"/>
<path d="M951.5 731.0V738.0" stroke="#22a08f" stroke-width="1"/>
<path d="M962.5 731.0V738.0" stroke="#abdcd6" stroke-width="1"/>
<path d="M973.5 730.0V738.0" stroke="#22a08f" stroke-width="1"/>
<path d="M983.5 729.2V738.0" stroke="#22a08f" stroke-width="1"/>
<path d="M994.5 727.0V738.0" stroke="#22a08f" stroke-width="1"/>
<path d="M1005.5 727.0V738.0" stroke="#22a08f" stroke-width="1"/>
<path d="M1015.5 729.2V738.0" stroke="#abdcd6" stroke-width="1"/>
<path d="M1026.5 734.2V738.0" stroke="#abdcd6" stroke-width="1"/>
<path d="M1037.5 737.5V738.7" stroke="#ff4a52" stroke-width="1"/>
<path d="M1048.5 737.5V740.8" stroke="#ff4a52" stroke-width="1"/>
<path d="M1058.5 737.5V746.7" stroke="#ff4a52" stroke-width="1"/>
<path d="M1069.5 737.5V754.2" stroke="#ff4a52" stroke-width="1"/>
<path d="M1080.5 737.5V755.8" stroke="#ff4a52" stroke-width="1"/>
<path d="M1090.5 737.5V755.8" stroke="#ffc9cf" stroke-width="1"/>
<path d="M1101.5 737.5V754.2" stroke="#ffc9cf" stroke-width="1"/>
<path d="M1112.5 737.5V751.7" stroke="#ffc9cf" stroke-width="1"/>
<path d="M1123.5 737.5V750.8" stroke="#ffc9cf" stroke-width="1"/>
<path d="M1133.5 737.5V750.8" stroke="#ff4a52" stroke-width="1"/>
<path d="M1144.5 737.5V748.7" stroke="#ffc9cf" stroke-width="1"/>
<path d="M1155.5 737.5V745.8" stroke="#ffc9cf" stroke-width="1"/>
<path d="M1165.5 737.5V743.8" stroke="#ffc9cf" stroke-width="1"/>
<path d="M1176.5 737.5V741.7" stroke="#ffc9cf" stroke-width="1"/>
<polyline points="9.4,720.8 20.1,723.3 30.8,726.2 41.5,728.7 52.2,731.3 62.9,733.3 73.6,735.3 84.3,737.2 95.1,738.7 105.8,741.3 116.5,743.8 127.2,745.8 137.9,747.8 148.6,749.5 159.3,750.5 170.0,751.2 180.7,751.2 191.4,750.8 202.2,750.3 212.9,749.7 223.6,748.8 234.3,748.3 245.0,747.8 255.7,746.7 266.4,745.5 277.1,745 287.8,744.7 298.5,744.5 309.2,744.2 320.0,744.7 330.7,745.3 341.4,745.8 352.1,746.7 362.8,747.2 373.5,748 384.2,748.7 394.9,749.2 405.6,749.5 416.4,749.5 427.1,749.5 437.8,749.5 448.5,749.7 459.2,749.7 469.9,749.5 480.6,749.2 491.3,748.3 502.0,747 512.7,745.5 523.5,744.2 534.2,742.5 544.9,740.8 555.6,738.8 566.3,736.7 577.0,735 587.7,733.7 598.4,732.2 609.1,731.2 619.8,730.3 630.6,730 641.3,730 652.0,730.3 662.7,730.5 673.4,731 684.1,731.5 694.8,732 705.5,732.8 716.2,733.8 726.9,735.2 737.7,736.5 748.4,737.8 759.1,739.7 769.8,741.5 780.5,743.5 791.2,746.2 801.9,749.3 812.6,752.5 823.3,755.3 834.0,757.8 844.8,760 855.5,762.2 866.2,764 876.9,765.2 887.6,765.8 898.3,765.8 909.0,765 919.7,763.7 930.4,762.5 941.1,761.2 951.9,759.7 962.6,758.3 973.3,756.3 984.0,754.2 994.7,751.7 1005.4,749.2 1016.1,747.2 1026.8,746.3 1037.5,746.3 1048.2,746.7 1059.0,749.2 1069.7,753.8 1080.4,758.3 1091.1,762.5 1101.8,766.3 1112.5,770 1123.2,773 1133.9,776.2 1144.6,778.7 1155.3,780.5 1166.1,782 1176.8,782.5" stroke="#ff6d00" stroke-width="1.1" fill="none" stroke-linejoin="round"/>
<polyline points="9.4,727.5 20.1,732.5 30.8,736.7 41.5,739.2 52.2,741.7 62.9,743.3 73.6,743.8 84.3,744.5 95.1,745.3 105.8,751.2 116.5,752.5 127.2,754.2 137.9,755.5 148.6,756.3 159.3,755 170.0,753.7 180.7,751.7 191.4,750 202.2,748.7 212.9,747 223.6,745.8 234.3,745.5 245.0,745 255.7,742 266.4,740.8 277.1,743.3 287.8,744.2 298.5,743.3 309.2,743.8 320.0,745.5 330.7,747.5 341.4,748.3 352.1,749.5 362.8,749.5 373.5,750.5 384.2,750.5 394.9,750.8 405.6,750.3 416.4,750 427.1,749.7 437.8,749.5 448.5,750 459.2,750 469.9,749.2 480.6,748.3 491.3,745.5 502.0,742 512.7,740 523.5,738 534.2,736.2 544.9,733.8 555.6,731.3 566.3,728.8 577.0,727.5 587.7,726.8 598.4,726.8 609.1,727 619.8,727.2 630.6,728.7 641.3,730 652.0,731.2 662.7,731.7 673.4,732.8 684.1,733.8 694.8,734.5 705.5,735.5 716.2,737.2 726.9,740.5 737.7,742 748.4,743.7 759.1,747.2 769.8,748.8 780.5,751.3 791.2,756.7 801.9,762 812.6,765.5 823.3,767 834.0,767.5 844.8,769.2 855.5,771.2 866.2,771.2 876.9,770 887.6,767.8 898.3,765.5 909.0,762.5 919.7,759.5 930.4,757.5 941.1,755.5 951.9,753.7 962.6,752.2 973.3,748.7 984.0,745.3 994.7,741.3 1005.4,738.3 1016.1,738.7 1026.8,743.8 1037.5,747 1048.2,750 1059.0,758 1069.7,770.3 1080.4,776.3 1091.1,780.5 1101.8,782.5 1112.5,783.8 1123.2,785.5 1133.9,789.2 1144.6,788.8 1155.3,787.8 1166.1,787 1176.8,786.2" stroke="#2f63fb" stroke-width="1.1" fill="none" stroke-linejoin="round"/>
</g>
<text x="18.2" y="735.8" font-size="11.6" fill="#333333" stroke="#333333" stroke-width="0.15" textLength="185" lengthAdjust="spacingAndGlyphs" >MACD (12, 26, close, 9, EMA, EMA)</text>
<text x="211" y="735.8" font-size="11.6" fill="#fac0c6" stroke="#fac0c6" stroke-width="0.15" textLength="29.5" lengthAdjust="spacingAndGlyphs" >−4.17</text>
<text x="248.1" y="735.8" font-size="11.6" fill="#2f63fb" stroke="#2f63fb" stroke-width="0.15" textLength="35.1" lengthAdjust="spacingAndGlyphs" >−60.64</text>
<text x="291.1" y="735.8" font-size="11.6" fill="#ff6d00" stroke="#ff6d00" stroke-width="0.15" textLength="35.3" lengthAdjust="spacingAndGlyphs" >−56.48</text>
<path d="M1763.5 28V821" stroke="#4f4f4f" stroke-width="1"/>
<path d="M10 794.5H1824" stroke="#4f4f4f" stroke-width="1"/>
<path d="M1764 104H1817Q1819 104 1819 106V119Q1819 121 1817 121H1764Z" fill="#ff0000"/>
<text x="1772" y="116.3" font-size="11.5" fill="#ffffff" font-weight="bold" textLength="43" lengthAdjust="spacingAndGlyphs">2,214.71</text>
<path d="M1764 309H1817Q1819 309 1819 311V324Q1819 326 1817 326H1764Z" fill="#ff0000"/>
<text x="1772" y="321.3" font-size="11.5" fill="#ffffff" font-weight="bold" textLength="43" lengthAdjust="spacingAndGlyphs">1,998.73</text>
<path d="M1764 356H1817Q1819 356 1819 358V371Q1819 373 1817 373H1764Z" fill="#ff0000"/>
<text x="1772" y="368.4" font-size="11.5" fill="#ffffff" font-weight="bold" textLength="43" lengthAdjust="spacingAndGlyphs">1,949.25</text>
<path d="M1764 450H1817Q1819 450 1819 452V478Q1819 480 1817 480H1764Z" fill="#0000ff"/>
<text x="1772" y="462.2" font-size="11.5" fill="#ffffff" font-weight="bold" textLength="43" lengthAdjust="spacingAndGlyphs">1,850.58</text>
<text x="1772" y="475.2" font-size="11.5" fill="#ffffff" font-weight="bold" textLength="27" lengthAdjust="spacingAndGlyphs">54:05</text>
<path d="M1764 489H1817Q1819 489 1819 491V504Q1819 506 1817 506H1764Z" fill="#3fa846"/>
<text x="1772" y="501.3" font-size="11.5" fill="#ffffff" font-weight="bold" textLength="43" lengthAdjust="spacingAndGlyphs">1,809.23</text>
<path d="M1764 539H1817Q1819 539 1819 541V554Q1819 556 1817 556H1764Z" fill="#3fa846"/>
<text x="1772" y="551.3" font-size="11.5" fill="#ffffff" font-weight="bold" textLength="43" lengthAdjust="spacingAndGlyphs">1,756.59</text>
<rect x="1767.5" y="31.5" width="54" height="25" rx="4" fill="#ffffff" stroke="#ececec" stroke-width="1"/>
<text x="1776.5" y="49" font-size="11.5" fill="#2a2a2a" textLength="20.5" lengthAdjust="spacingAndGlyphs">USD</text>
<text x="41.2" y="811" font-size="11.4" fill="#3c3c3c" stroke="#3c3c3c" stroke-width="0.2" text-anchor="middle" textLength="27.5" lengthAdjust="spacingAndGlyphs">18:00</text>
<text x="105.5" y="811" font-size="11.4" fill="#3c3c3c" stroke="#3c3c3c" stroke-width="0.2" text-anchor="middle" textLength="6" lengthAdjust="spacingAndGlyphs">7</text>
<text x="169.7" y="811" font-size="11.4" fill="#3c3c3c" stroke="#3c3c3c" stroke-width="0.2" text-anchor="middle" textLength="27.5" lengthAdjust="spacingAndGlyphs">06:00</text>
<text x="234.0" y="811" font-size="11.4" fill="#3c3c3c" stroke="#3c3c3c" stroke-width="0.2" text-anchor="middle" textLength="27.5" lengthAdjust="spacingAndGlyphs">12:00</text>
<text x="298.2" y="811" font-size="11.4" fill="#3c3c3c" stroke="#3c3c3c" stroke-width="0.2" text-anchor="middle" textLength="27.5" lengthAdjust="spacingAndGlyphs">18:00</text>
<text x="362.5" y="811" font-size="11.4" fill="#3c3c3c" stroke="#3c3c3c" stroke-width="0.2" text-anchor="middle" textLength="6" lengthAdjust="spacingAndGlyphs">8</text>
<text x="426.8" y="811" font-size="11.4" fill="#3c3c3c" stroke="#3c3c3c" stroke-width="0.2" text-anchor="middle" textLength="27.5" lengthAdjust="spacingAndGlyphs">06:00</text>
<text x="491.0" y="811" font-size="11.4" fill="#3c3c3c" stroke="#3c3c3c" stroke-width="0.2" text-anchor="middle" textLength="27.5" lengthAdjust="spacingAndGlyphs">12:00</text>
<text x="555.3" y="811" font-size="11.4" fill="#3c3c3c" stroke="#3c3c3c" stroke-width="0.2" text-anchor="middle" textLength="27.5" lengthAdjust="spacingAndGlyphs">18:00</text>
<text x="619.5" y="811" font-size="11.4" fill="#3c3c3c" stroke="#3c3c3c" stroke-width="0.2" text-anchor="middle" textLength="6" lengthAdjust="spacingAndGlyphs">9</text>
<text x="683.8" y="811" font-size="11.4" fill="#3c3c3c" stroke="#3c3c3c" stroke-width="0.2" text-anchor="middle" textLength="27.5" lengthAdjust="spacingAndGlyphs">06:00</text>
<text x="748.1" y="811" font-size="11.4" fill="#3c3c3c" stroke="#3c3c3c" stroke-width="0.2" text-anchor="middle" textLength="27.5" lengthAdjust="spacingAndGlyphs">12:00</text>
<text x="812.3" y="811" font-size="11.4" fill="#3c3c3c" stroke="#3c3c3c" stroke-width="0.2" text-anchor="middle" textLength="27.5" lengthAdjust="spacingAndGlyphs">18:00</text>
<text x="876.6" y="811" font-size="11.4" fill="#3c3c3c" stroke="#3c3c3c" stroke-width="0.55" text-anchor="middle" textLength="11.5" lengthAdjust="spacingAndGlyphs">10</text>
<text x="940.8" y="811" font-size="11.4" fill="#3c3c3c" stroke="#3c3c3c" stroke-width="0.2" text-anchor="middle" textLength="27.5" lengthAdjust="spacingAndGlyphs">06:00</text>
<text x="1005.1" y="811" font-size="11.4" fill="#3c3c3c" stroke="#3c3c3c" stroke-width="0.2" text-anchor="middle" textLength="27.5" lengthAdjust="spacingAndGlyphs">12:00</text>
<text x="1069.4" y="811" font-size="11.4" fill="#3c3c3c" stroke="#3c3c3c" stroke-width="0.2" text-anchor="middle" textLength="27.5" lengthAdjust="spacingAndGlyphs">18:00</text>
<text x="1133.6" y="811" font-size="11.4" fill="#3c3c3c" stroke="#3c3c3c" stroke-width="0.2" text-anchor="middle" textLength="11.5" lengthAdjust="spacingAndGlyphs">11</text>
<text x="1197.9" y="811" font-size="11.4" fill="#3c3c3c" stroke="#3c3c3c" stroke-width="0.2" text-anchor="middle" textLength="27.5" lengthAdjust="spacingAndGlyphs">06:00</text>
<text x="1262.1" y="811" font-size="11.4" fill="#3c3c3c" stroke="#3c3c3c" stroke-width="0.2" text-anchor="middle" textLength="27.5" lengthAdjust="spacingAndGlyphs">12:00</text>
<text x="1326.4" y="811" font-size="11.4" fill="#3c3c3c" stroke="#3c3c3c" stroke-width="0.2" text-anchor="middle" textLength="27.5" lengthAdjust="spacingAndGlyphs">18:00</text>
<text x="1390.7" y="811" font-size="11.4" fill="#3c3c3c" stroke="#3c3c3c" stroke-width="0.2" text-anchor="middle" textLength="11.5" lengthAdjust="spacingAndGlyphs">12</text>
<text x="1454.9" y="811" font-size="11.4" fill="#3c3c3c" stroke="#3c3c3c" stroke-width="0.2" text-anchor="middle" textLength="27.5" lengthAdjust="spacingAndGlyphs">06:00</text>
<text x="1519.2" y="811" font-size="11.4" fill="#3c3c3c" stroke="#3c3c3c" stroke-width="0.2" text-anchor="middle" textLength="27.5" lengthAdjust="spacingAndGlyphs">12:00</text>
<text x="1583.4" y="811" font-size="11.4" fill="#3c3c3c" stroke="#3c3c3c" stroke-width="0.2" text-anchor="middle" textLength="27.5" lengthAdjust="spacingAndGlyphs">18:00</text>
<text x="1647.7" y="811" font-size="11.4" fill="#3c3c3c" stroke="#3c3c3c" stroke-width="0.2" text-anchor="middle" textLength="11.5" lengthAdjust="spacingAndGlyphs">13</text>
<text x="1712.0" y="811" font-size="11.4" fill="#3c3c3c" stroke="#3c3c3c" stroke-width="0.2" text-anchor="middle" textLength="27.5" lengthAdjust="spacingAndGlyphs">06:00</text>
<text x="10" y="18.6" font-size="12.5" fill="#1c1c1c" stroke="#1c1c1c" stroke-width="0.25" textLength="368.6" lengthAdjust="spacingAndGlyphs">aayushjindal published on TradingView.com, Mar 11, 2025 04:05 UTC</text>
<g fill="#1c1c1c"><path d="M10.1 834.1H17.9V843.7H14V837.8H10.1Z"/><circle cx="20.9" cy="836.1" r="1.85"/><path d="M23.6 834.1H29.7L25.2 843.7H21.1Z"/></g>
<text x="32.9" y="843.7" font-size="12.6" fill="#1c1c1c" stroke="#1c1c1c" stroke-width="0.3" textLength="70.4" lengthAdjust="spacingAndGlyphs">TradingView</text>
</svg>
</body></html>
